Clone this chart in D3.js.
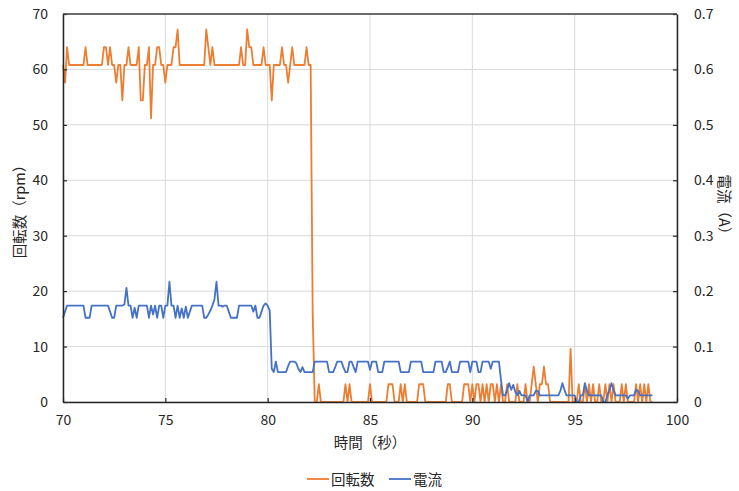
<!DOCTYPE html>
<html>
<head>
<meta charset="utf-8">
<script src="https://cdn.jsdelivr.net/npm/d3@7"></script>
<style>
  body { margin: 0; background: #fff; }
  text { font-family: "Noto Sans CJK JP", "Noto Sans", sans-serif; fill: #262626; }
</style>
</head>
<body>
<svg id="chart" width="739" height="491"></svg>
<script>
// sampling: one reading every 0.1 s starting at 70 s
const startTime = 70;
const step = 0.1;

// 回転数 (rpm), one row per second
const rpm = [
  60.8, 57.6, 64, 60.8, 60.8, 60.8, 60.8, 60.8, 60.8, 60.8,
  60.8, 64, 60.8, 60.8, 60.8, 60.8, 60.8, 60.8, 60.8, 60.8,
  64, 64, 60.8, 64, 60.8, 60.8, 57.6, 60.8, 60.8, 54.4,
  60.8, 60.8, 64, 60.8, 60.8, 60.8, 60.8, 64, 54.4, 54.4,
  60.8, 60.8, 64, 51.2, 60.8, 60.8, 64, 64, 60.8, 60.8,
  57.6, 60.8, 60.8, 60.8, 64, 64, 67.2, 60.8, 60.8, 60.8,
  60.8, 60.8, 60.8, 60.8, 60.8, 60.8, 60.8, 60.8, 60.8, 60.8,
  67.2, 64, 60.8, 64, 60.8, 60.8, 60.8, 60.8, 60.8, 60.8,
  60.8, 60.8, 60.8, 60.8, 60.8, 60.8, 60.8, 64, 60.8, 60.8,
  67.2, 64, 64, 60.8, 60.8, 60.8, 60.8, 60.8, 64, 60.8,
  60.8, 60.8, 54.4, 60.8, 60.8, 60.8, 60.8, 64, 60.8, 60.8,
  57.6, 60.8, 64, 60.8, 60.8, 60.8, 60.8, 60.8, 60.8, 64,
  60.8, 60.8, 16, 0, 0, 3.2, 0, 0, 0, 0,
  0, 0, 0, 0, 0, 0, 0, 0, 3.2, 0,
  3.2, 0, 0, 0, 0, 0, 0, 0, 0, 0,
  3.2, 0, 0, 0, 0, 0, 0, 0, 0, 3.2,
  3.2, 3.2, 0, 0, 0, 3.2, 0, 3.2, 0, 0,
  0, 0, 0, 0, 3.2, 3.2, 3.2, 0, 0, 0,
  0, 0, 0, 0, 0, 0, 0, 0, 3.2, 3.2,
  0, 0, 0, 0, 0, 0, 3.2, 3.2, 3.2, 0,
  3.2, 0, 3.2, 3.2, 0, 3.2, 0, 3.2, 0, 3.2,
  3.2, 0, 3.2, 0, 3.2, 0, 0, 3.2, 0, 0,
  0, 0, 3.2, 0, 0, 0, 3.2, 0, 0, 3.2,
  6.4, 3.2, 0, 3.2, 3.2, 6.4, 3.2, 3.2, 0, 0,
  0, 0, 0, 0, 0, 0, 0, 0, 9.6, 0,
  0, 0, 3.2, 0, 0, 3.2, 0, 3.2, 0, 3.2,
  0, 0, 3.2, 0, 0, 3.2, 0, 3.2, 0, 3.2,
  0, 0, 0, 3.2, 0, 3.2, 0, 0, 0, 0,
  3.2, 0, 3.2, 0, 3.2, 0, 3.2, 0, 0
];

// 電流 (A), same sampling
const current = [
  0.152, 0.163, 0.174, 0.174, 0.174, 0.174, 0.174, 0.174, 0.174, 0.174,
  0.174, 0.152, 0.152, 0.152, 0.174, 0.174, 0.174, 0.174, 0.174, 0.174,
  0.174, 0.174, 0.174, 0.163, 0.152, 0.152, 0.174, 0.174, 0.174, 0.174,
  0.176, 0.206, 0.174, 0.174, 0.152, 0.170, 0.152, 0.174, 0.174, 0.174,
  0.174, 0.174, 0.152, 0.174, 0.158, 0.174, 0.152, 0.174, 0.174, 0.152,
  0.174, 0.174, 0.217, 0.174, 0.174, 0.152, 0.174, 0.152, 0.169, 0.152,
  0.172, 0.152, 0.163, 0.174, 0.174, 0.174, 0.174, 0.174, 0.174, 0.152,
  0.152, 0.158, 0.165, 0.174, 0.185, 0.217, 0.174, 0.174, 0.172, 0.174,
  0.174, 0.163, 0.152, 0.152, 0.152, 0.152, 0.174, 0.174, 0.174, 0.174,
  0.174, 0.174, 0.174, 0.163, 0.174, 0.152, 0.152, 0.163, 0.174, 0.178,
  0.174, 0.165, 0.060, 0.054, 0.073, 0.054, 0.054, 0.054, 0.054, 0.054,
  0.065, 0.073, 0.073, 0.073, 0.070, 0.060, 0.054, 0.063, 0.054, 0.054,
  0.054, 0.054, 0.054, 0.073, 0.073, 0.073, 0.073, 0.073, 0.073, 0.073,
  0.054, 0.054, 0.054, 0.063, 0.073, 0.073, 0.073, 0.063, 0.054, 0.054,
  0.073, 0.073, 0.063, 0.054, 0.073, 0.073, 0.073, 0.073, 0.073, 0.073,
  0.058, 0.073, 0.073, 0.073, 0.054, 0.054, 0.054, 0.073, 0.073, 0.073,
  0.073, 0.073, 0.073, 0.073, 0.073, 0.054, 0.054, 0.054, 0.054, 0.054,
  0.073, 0.073, 0.073, 0.073, 0.073, 0.073, 0.054, 0.054, 0.054, 0.054,
  0.054, 0.054, 0.073, 0.073, 0.073, 0.073, 0.054, 0.054, 0.063, 0.073,
  0.054, 0.054, 0.054, 0.054, 0.073, 0.073, 0.073, 0.073, 0.073, 0.054,
  0.073, 0.073, 0.073, 0.054, 0.054, 0.073, 0.073, 0.073, 0.073, 0.060,
  0.073, 0.073, 0.073, 0.073, 0.040, 0.012, 0.012, 0.022, 0.034, 0.022,
  0.031, 0.018, 0.012, 0.020, 0.012, 0.012, 0.012, 0, 0.012, 0.012,
  0.012, 0.020, 0.020, 0.012, 0.012, 0.012, 0.012, 0.012, 0.012, 0.012,
  0.012, 0.012, 0.012, 0.020, 0.034, 0.022, 0.012, 0.012, 0.012, 0.012,
  0.012, 0, 0, 0.012, 0.012, 0.034, 0.020, 0.012, 0.012, 0.012,
  0.012, 0.012, 0.012, 0.012, 0, 0, 0.012, 0.022, 0.034, 0.022,
  0.012, 0.012, 0.012, 0.012, 0.012, 0.012, 0.006, 0.012, 0.012, 0.012,
  0.022, 0.020, 0.012, 0.012, 0.012, 0.012, 0.012, 0.012, 0.012
];

const xTicks = [70, 75, 80, 85, 90, 95, 100];
const rpmTicks = [0, 10, 20, 30, 40, 50, 60, 70];
const ampTicks = [0, 0.1, 0.2, 0.3, 0.4, 0.5, 0.6, 0.7];

const seriesNames = ["回転数", "電流"];
const colors = ["#ED7D31", "#4472C4"];

(function() {
"use strict";

const m = {left: 63, right: 677, top: 14, bottom: 402};

const svg = d3.select("#chart");

const x = d3.scaleLinear().domain([70, 100]).range([m.left, m.right]);
const yL = d3.scaleLinear().domain([0, 70]).range([m.bottom, m.top]);
const yR = d3.scaleLinear().domain([0, 0.7]).range([m.bottom, m.top]);

// gridlines
svg.append("g")
  .selectAll("line")
  .data(rpmTicks)
  .enter()
  .append("line")
  .attr("x1", m.left).attr("x2", m.right)
  .attr("y1", d => yL(d)).attr("y2", d => yL(d))
  .attr("stroke", "#d9d9d9").attr("stroke-width", 1);

svg.append("g")
  .selectAll("line")
  .data(xTicks)
  .enter()
  .append("line")
  .attr("x1", d => x(d)).attr("x2", d => x(d))
  .attr("y1", m.top).attr("y2", m.bottom)
  .attr("stroke", "#d9d9d9").attr("stroke-width", 1);

// lines
const pts = vals => vals.map((v, i) => [startTime + i * step, v]);

const rpmLine = d3.line().x(d => x(d[0])).y(d => yL(d[1]));
const ampLine = d3.line().x(d => x(d[0])).y(d => yR(d[1]));

svg.append("path")
  .datum(pts(rpm))
  .attr("d", rpmLine)
  .attr("fill", "none")
  .attr("stroke", colors[0])
  .attr("stroke-width", 1.8)
  .attr("stroke-linejoin", "round");

svg.append("path")
  .datum(pts(current))
  .attr("d", ampLine)
  .attr("fill", "none")
  .attr("stroke", colors[1])
  .attr("stroke-width", 1.8)
  .attr("stroke-linejoin", "round");

// axes (ticks point inward)
const styleAxis = g => {
  g.select(".domain").attr("stroke", "#262626").attr("stroke-width", 1.5);
  g.selectAll(".tick line").attr("stroke", "#262626").attr("stroke-width", 1.2);
  g.selectAll(".tick text")
    .attr("font-size", 14)
    .attr("fill", "#262626")
    .attr("font-family", "'Noto Sans CJK JP', sans-serif");
};

svg.append("g")
  .attr("transform", `translate(0,${m.bottom})`)
  .call(d3.axisBottom(x).tickValues(xTicks).tickSizeInner(-4).tickSizeOuter(0).tickPadding(13))
  .call(styleAxis);

svg.append("g")
  .attr("transform", `translate(${m.left},0)`)
  .call(d3.axisLeft(yL).tickValues(rpmTicks).tickSizeInner(-4).tickSizeOuter(0).tickPadding(15))
  .call(styleAxis);

svg.append("g")
  .attr("transform", `translate(${m.right},0)`)
  .call(d3.axisRight(yR).tickValues(ampTicks).tickFormat(d => d === 0 ? "0" : d3.format(".1f")(d))
        .tickSizeInner(-4).tickSizeOuter(0).tickPadding(17))
  .call(styleAxis);

// top border
svg.append("line")
  .attr("x1", m.left).attr("x2", m.right)
  .attr("y1", m.top).attr("y2", m.top)
  .attr("stroke", "#404040").attr("stroke-width", 1.5);

// titles
svg.append("text")
  .attr("x", (m.left + m.right) / 2).attr("y", 448)
  .attr("text-anchor", "middle").attr("font-size", 14.5)
  .text("時間（秒）");

svg.append("text")
  .attr("transform", `translate(25,${(m.top + m.bottom) / 2}) rotate(-90)`)
  .attr("text-anchor", "middle").attr("font-size", 14.5)
  .text("回転数（rpm）");

svg.append("text")
  .attr("transform", `translate(719,${(m.top + m.bottom) / 2}) rotate(90)`)
  .attr("text-anchor", "middle").attr("font-size", 14.5)
  .text("電流（A）");

// legend
const legendX = [307, 389];
const legend = svg.append("g")
  .selectAll("g")
  .data(seriesNames)
  .enter()
  .append("g")
  .attr("transform", (d, i) => `translate(${legendX[i]},479)`);

legend.append("line")
  .attr("x1", 0).attr("x2", 22)
  .attr("stroke", (d, i) => colors[i])
  .attr("stroke-width", 1.8);

legend.append("text")
  .attr("x", 24).attr("y", 5.5)
  .attr("font-size", 14.5)
  .text(d => d);
})();
</script>
</body>
</html>
